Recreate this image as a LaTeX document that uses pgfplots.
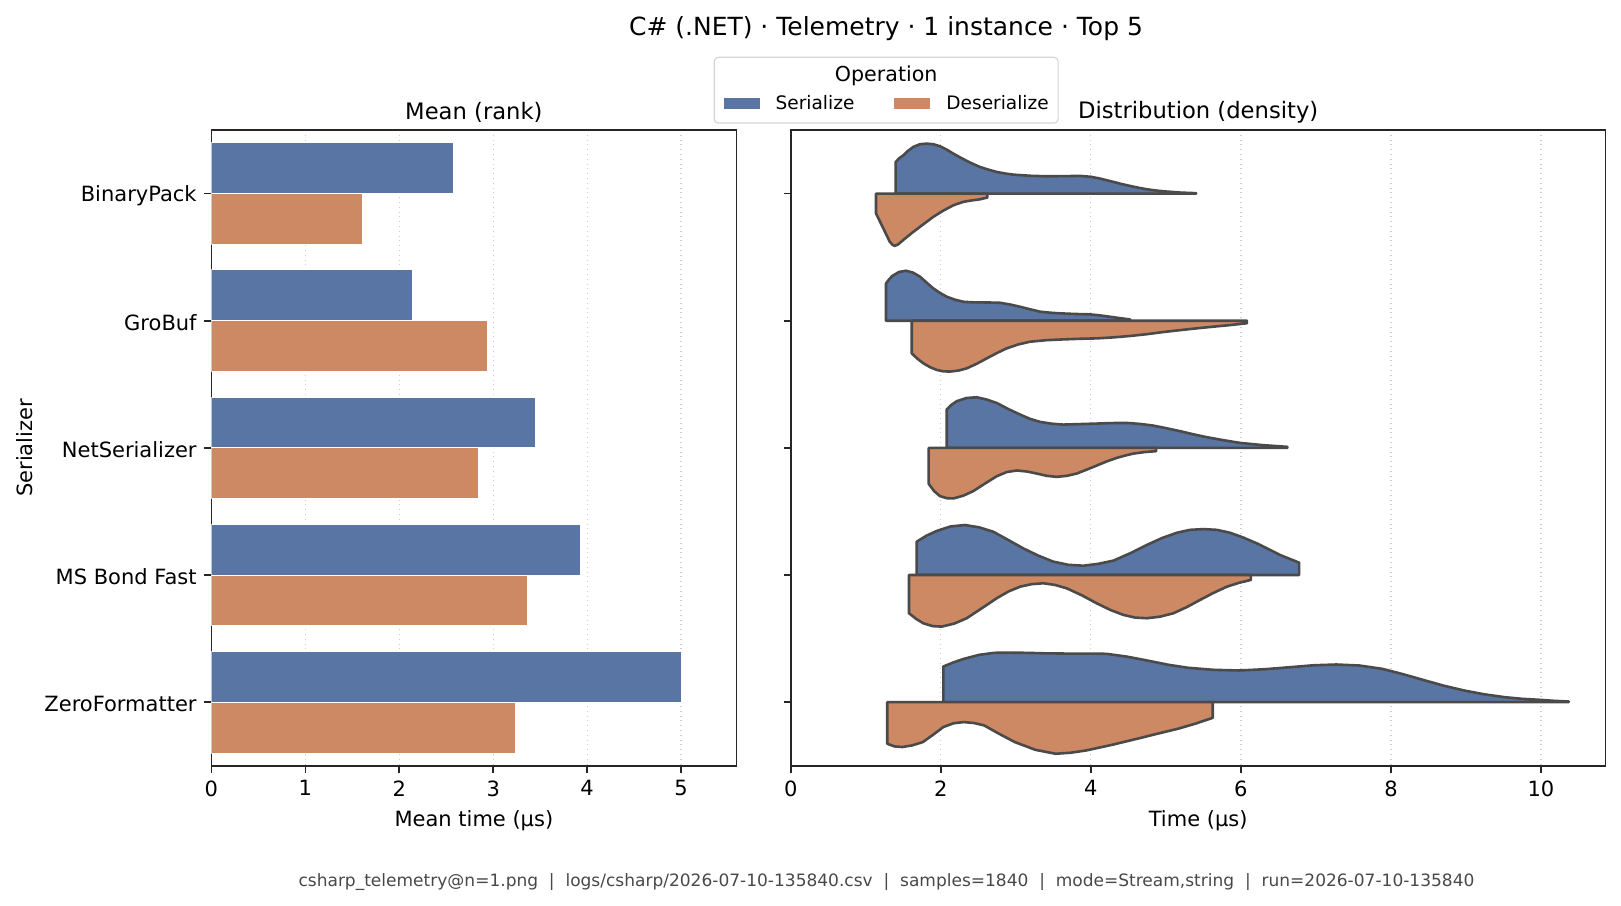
\documentclass[border=0pt]{standalone}
\usepackage{fontspec}
\setmainfont{DejaVu Sans}
\usepackage{pgfplots}
\pgfplotsset{compat=1.18}
\usepackage{pgfplotstable}

\definecolor{sblue}{RGB}{89,117,164}
\definecolor{sorange}{RGB}{204,137,99}
\definecolor{vedge}{RGB}{74,74,74}
\definecolor{axcol}{RGB}{38,38,38}
\definecolor{gridc}{RGB}{205,205,205}
\definecolor{legframe}{RGB}{214,214,214}
\definecolor{footc}{RGB}{72,72,72}

\pgfplotsset{patch legend/.style={legend image code/.code={\fill[##1, draw=none, sharp corners] (0pt,-2.93pt) rectangle (18pt,2.93pt);}}}

% Violin half-profiles: x (microseconds), w (half width in category units)
\pgfplotstableread{
x w
1.398 0
1.398 0.249
1.45 0.28
1.5 0.301
1.56 0.335
1.633 0.367
1.72 0.388
1.811 0.393
1.9 0.388
1.989 0.372
2.08 0.345
2.167 0.314
2.256 0.285
2.345 0.257
2.433 0.232
2.523 0.209
2.635 0.188
2.745 0.170
2.856 0.158
2.967 0.149
3.19 0.140
3.412 0.136
3.634 0.137
3.856 0.139
4.0 0.132
4.123 0.118
4.21 0.105
4.3 0.092
4.41 0.075
4.523 0.060
4.634 0.046
4.745 0.034
4.856 0.025
4.967 0.018
5.19 0.008
5.403 0.003
5.403 0
}\bpS
\pgfplotstableread{
x w
1.136 0
1.136 0.157
1.23 0.27
1.32 0.38
1.36 0.405
1.389 0.411
1.43 0.40
1.52 0.355
1.633 0.301
1.77 0.24
1.9 0.183
2.03 0.135
2.167 0.092
2.3 0.065
2.41 0.054
2.523 0.045
2.62 0.031
2.62 0
}\bpD
\pgfplotstableread{
x w
1.269 0
1.269 0.293
1.31 0.325
1.35 0.351
1.44 0.383
1.536 0.393
1.63 0.378
1.723 0.346
1.81 0.30
1.9 0.254
1.99 0.218
2.078 0.189
2.19 0.165
2.3 0.149
2.41 0.145
2.523 0.144
2.66 0.143
2.79 0.141
2.92 0.128
3.056 0.110
3.19 0.090
3.323 0.071
3.456 0.063
3.589 0.058
3.79 0.053
3.989 0.050
4.12 0.042
4.256 0.031
4.39 0.020
4.523 0.01
4.523 0
}\gbS
\pgfplotstableread{
x w
1.612 0
1.612 0.257
1.69 0.30
1.767 0.335
1.855 0.365
1.945 0.387
2.03 0.398
2.123 0.40
2.235 0.392
2.345 0.375
2.48 0.338
2.612 0.296
2.745 0.255
2.879 0.217
3.03 0.187
3.189 0.165
3.41 0.153
3.633 0.147
3.856 0.142
4.079 0.139
4.3 0.131
4.523 0.120
4.745 0.106
4.967 0.089
5.19 0.074
5.41 0.060
5.63 0.047
5.86 0.034
6.08 0.02
6.08 0
}\gbD
\pgfplotstableread{
x w
2.078 0
2.078 0.301
2.14 0.338
2.212 0.367
2.34 0.392
2.479 0.398
2.61 0.38
2.745 0.353
2.9 0.305
3.056 0.262
3.19 0.228
3.323 0.204
3.48 0.190
3.633 0.183
3.856 0.187
4.079 0.191
4.28 0.195
4.479 0.196
4.66 0.188
4.833 0.175
5.01 0.154
5.19 0.131
5.37 0.106
5.545 0.084
5.77 0.060
5.989 0.039
6.3 0.021
6.62 0.008
6.62 0
}\nsS
\pgfplotstableread{
x w
1.838 0
1.838 0.283
1.91 0.34
1.989 0.380
2.08 0.396
2.167 0.398
2.3 0.376
2.433 0.340
2.59 0.28
2.745 0.223
2.88 0.19
3.012 0.178
3.145 0.186
3.279 0.202
3.41 0.220
3.545 0.228
3.68 0.220
3.812 0.202
3.95 0.170
4.079 0.139
4.21 0.107
4.345 0.079
4.46 0.060
4.568 0.045
4.72 0.033
4.87 0.026
4.87 0
}\nsD
\pgfplotstableread{
x w
1.678 0
1.678 0.262
1.81 0.31
1.945 0.346
2.13 0.382
2.323 0.393
2.51 0.375
2.7 0.340
2.9 0.275
3.1 0.209
3.3 0.152
3.5 0.105
3.7 0.080
3.9 0.073
4.1 0.088
4.3 0.113
4.52 0.17
4.745 0.236
4.945 0.29
5.145 0.332
5.32 0.355
5.5 0.361
5.68 0.355
5.856 0.332
6.03 0.295
6.212 0.249
6.37 0.203
6.523 0.157
6.65 0.127
6.776 0.097
6.776 0
}\mbS
\pgfplotstableread{
x w
1.576 0
1.576 0.301
1.67 0.345
1.767 0.380
1.89 0.402
2.012 0.406
2.18 0.382
2.345 0.340
2.545 0.262
2.745 0.183
2.9 0.130
3.056 0.092
3.21 0.072
3.367 0.065
3.52 0.078
3.679 0.105
3.88 0.16
4.079 0.223
4.26 0.275
4.434 0.314
4.59 0.335
4.745 0.340
4.92 0.328
5.1 0.301
5.28 0.252
5.456 0.196
5.63 0.142
5.812 0.092
5.97 0.062
6.132 0.039
6.132 0
}\mbD
\pgfplotstableread{
x w
2.033 0
2.033 0.280
2.17 0.313
2.305 0.340
2.51 0.372
2.713 0.388
2.92 0.389
3.121 0.388
3.39 0.384
3.665 0.382
3.94 0.382
4.209 0.380
4.48 0.358
4.753 0.327
5.03 0.294
5.299 0.270
5.64 0.254
5.979 0.249
6.32 0.259
6.659 0.275
6.97 0.290
7.271 0.296
7.58 0.288
7.883 0.262
8.16 0.22
8.428 0.175
8.7 0.13
8.972 0.092
9.24 0.062
9.516 0.039
9.75 0.026
9.99 0.018
10.18 0.010
10.37 0.005
10.37 0
}\zfS
\pgfplotstableread{
x w
1.285 0
1.285 0.327
1.38 0.348
1.488 0.353
1.62 0.340
1.761 0.314
1.9 0.255
2.033 0.196
2.17 0.166
2.305 0.157
2.44 0.164
2.577 0.183
2.78 0.25
2.985 0.314
3.26 0.375
3.529 0.406
3.73 0.398
3.937 0.380
4.28 0.336
4.617 0.288
4.89 0.248
5.163 0.209
5.4 0.168
5.625 0.123
5.625 0
}\zfD

\pgfplotsset{
  every axis title shift=0pt,
  common/.style={
    scale only axis,
    height=317.85pt,
    ymin=-0.5, ymax=4.5, y dir=reverse,
    ytick={0,1,2,3,4},
    xmin=0,
    xtick pos=left, ytick pos=left,
    tick align=outside,
    major tick length=3.6pt,
    tick style={axcol, line width=0.82pt},
    axis line style={axcol, line width=0.9pt},
    xmajorgrids,
    grid style={gridc, dotted, line width=0.6pt},
    /pgf/number format/assume math mode=true,
    tick label style={font=\fontsize{10.5}{12}\selectfont, inner sep=0pt},
    yticklabel style={yshift=-1pt},
    xticklabel shift=3.6pt,
    yticklabel shift=3.6pt,
    label style={font=\fontsize{10.5}{12}\selectfont},
    xlabel style={at={(axis description cs:0.5,0)}, anchor=center, yshift=-27.6pt},
    title style={font=\fontsize{11.33}{13}\selectfont, at={(axis description cs:0.5,1)}, anchor=center, yshift=8.9pt},
  },
  violin/.style={draw=vedge, line width=1.3pt, line join=round, forget plot},
}

\begin{document}
\begin{tikzpicture}
\useasboundingbox (0,0) rectangle (810.5pt,452.5pt);

\begin{axis}[
  common,
  at={(105.7pt,69.65pt)}, anchor=south west,
  width=262.5pt,
  xmax=5.589,
  xtick={0,1,2,3,4,5},
  yticklabels={BinaryPack,GroBuf,NetSerializer,MS Bond Fast,ZeroFormatter},
  title={Mean (rank)},
  xlabel={Mean time (µs)},
  ylabel={Serializer},
  ylabel style={at={(axis description cs:-0.3554,0.5)}, anchor=center},
]
\addplot[xbar, bar width=0.4, bar shift=-0.2, fill=sblue, draw=white, line width=0.4pt]
  coordinates {(2.571,0) (2.145,1) (3.450,2) (3.928,3) (5.000,4)};
\addplot[xbar, bar width=0.4, bar shift=0.2, fill=sorange, draw=white, line width=0.4pt]
  coordinates {(1.612,0) (2.935,1) (2.845,2) (3.369,3) (3.232,4)};
\end{axis}

\begin{axis}[
  common,
  at={(395.4pt,69.65pt)}, anchor=south west,
  width=407.35pt,
  xmax=10.86,
  xtick={0,2,4,6,8,10},
  yticklabels={{},{},{},{},{}},
  title={Distribution (density)},
  xlabel={Time (µs)},
  legend columns=2,
  legend cell align=left,
  legend style={
    at={(axis description cs:0.1171,1.1153)}, anchor=north,
    draw=legframe, line width=0.6pt, rounded corners=2pt, fill=white,
    inner xsep=4.7pt, inner ysep=5.5pt, row sep=0pt,
    font=\fontsize{9.27}{11}\selectfont,
    nodes={inner sep=0pt},
    /tikz/every odd column/.append style={column sep=8pt},
    /tikz/every even column/.append style={column sep=20pt},
    label={[font=\fontsize{10.3}{12}\selectfont, anchor=north, inner sep=0pt, yshift=-4.6pt]north:Operation},
  },
]
\addlegendimage{empty legend}\addlegendentry{\rule{0pt}{11.85pt}}
\addlegendimage{empty legend}\addlegendentry{}
\addlegendimage{patch legend, fill=sblue}\addlegendentry{Serialize}
\addlegendimage{patch legend, fill=sorange}\addlegendentry{Deserialize}

\addplot[violin, fill=sblue] table[x=x, y expr={0-\thisrow{w}}] {\bpS} -- cycle;
\addplot[violin, fill=sorange] table[x=x, y expr={0+\thisrow{w}}] {\bpD} -- cycle;
\addplot[violin, fill=sblue] table[x=x, y expr={1-\thisrow{w}}] {\gbS} -- cycle;
\addplot[violin, fill=sorange] table[x=x, y expr={1+\thisrow{w}}] {\gbD} -- cycle;
\addplot[violin, fill=sblue] table[x=x, y expr={2-\thisrow{w}}] {\nsS} -- cycle;
\addplot[violin, fill=sorange] table[x=x, y expr={2+\thisrow{w}}] {\nsD} -- cycle;
\addplot[violin, fill=sblue] table[x=x, y expr={3-\thisrow{w}}] {\mbS} -- cycle;
\addplot[violin, fill=sorange] table[x=x, y expr={3+\thisrow{w}}] {\mbD} -- cycle;
\addplot[violin, fill=sblue] table[x=x, y expr={4-\thisrow{w}}] {\zfS} -- cycle;
\addplot[violin, fill=sorange] table[x=x, y expr={4+\thisrow{w}}] {\zfD} -- cycle;
\end{axis}

\node[font=\fontsize{12.49}{14}\selectfont, anchor=center] at (443pt,438.05pt)
  {C\# (.NET) · Telemetry · 1 instance · Top 5};
\node[font=\fontsize{8.51}{10}\selectfont, text=footc, anchor=center] at (443.25pt,11.6pt)
  {csharp\_telemetry@n=1.png\ \ |\ \ logs/csharp/2026-07-10-135840.csv\ \ |\ \ samples=1840\ \ |\ \ mode=Stream,string\ \ |\ \ run=2026-07-10-135840};
\end{tikzpicture}
\end{document}
